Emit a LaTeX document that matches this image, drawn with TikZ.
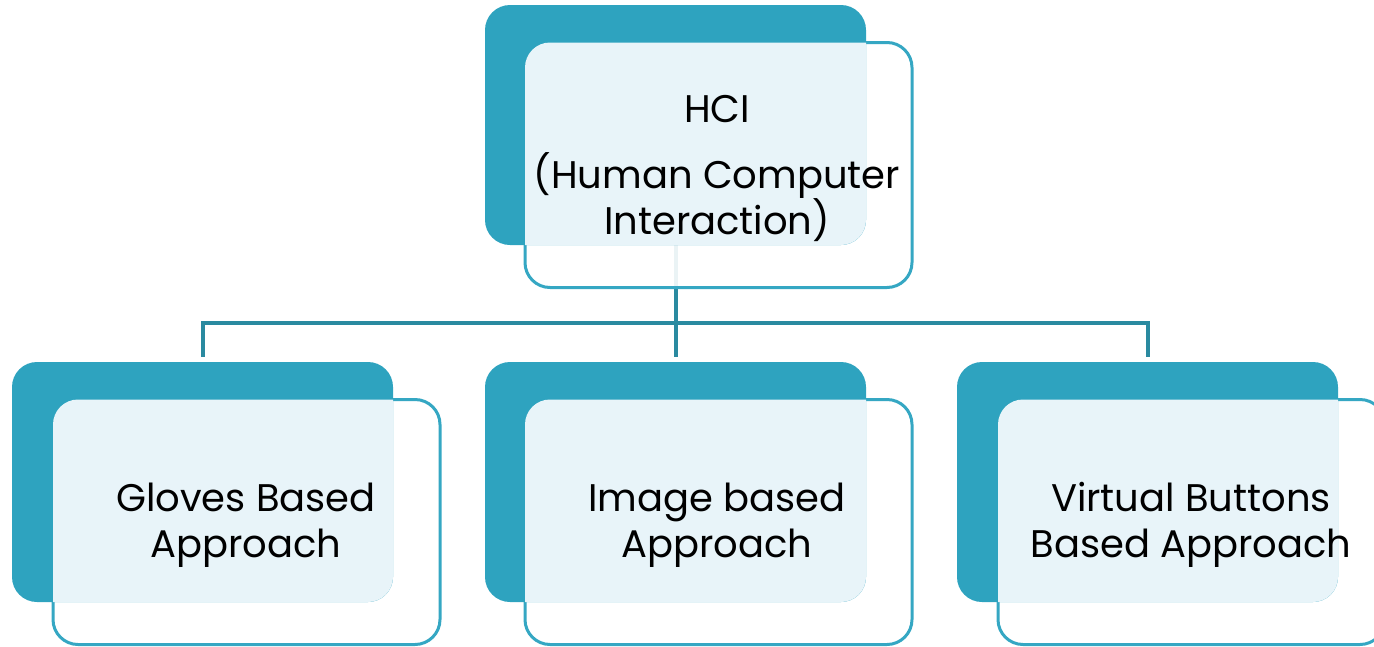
\documentclass[tikz,border=0pt]{standalone}
\usepackage{fontspec}
\setmainfont{Poppins}
\definecolor{teal1}{HTML}{2EA3BF}
\definecolor{tealb}{HTML}{35A7C3}
\definecolor{connc}{HTML}{2A8AA0}
\definecolor{lightf}{HTML}{E8F4F9}
\tikzset{
  backbox/.style={rounded corners=25pt, fill=teal1, draw=none, minimum width=381pt, minimum height=240pt, inner sep=0pt, outer sep=0pt},
  frontbox/.style={rounded corners=25pt, fill=white, fill opacity=0.9, draw=tealb, draw opacity=1, line width=3pt, minimum width=387pt, minimum height=245pt, inner sep=0pt, outer sep=0pt},
  label/.style={align=center, font=\fontsize{38.5}{46}\selectfont, text=black},
  conn/.style={draw=connc, line width=4pt},
}
\newcommand{\overlap}[2]{%
  \begin{scope}
    \clip[rounded corners=25pt] (#1.south west) rectangle (#1.north east);
    \fill[lightf, rounded corners=25pt] (#2.south west) rectangle (#2.north east);
  \end{scope}}
\begin{document}
\begin{tikzpicture}[x=1pt,y=1pt]
\useasboundingbox (0,0) rectangle (1374,-646);
\clip (0,0) rectangle (1374,-646);
% coordinates for connectors (positions of back boxes)
\coordinate (top) at (675.5,-245);
\coordinate (bus) at (675.5,-323);
\coordinate (d1) at (202.5,-357);
\coordinate (d2) at (675.5,-357);
\coordinate (d3) at (1147.5,-357);
\draw[conn] (top) -- (bus);
\draw[conn] (bus) -| (d1);
\draw[conn] (bus) -- (d2);
\draw[conn] (bus) -| (d3);
% top
\node[frontbox] (hciF) at (718.5,-165) {};
\node[backbox] (hciB) at (675.5,-125) {};
\overlap{hciF}{hciB}
\node[label] (hci) at (717,-168) {HCI\\[20pt](Human Computer\\Interaction)};
% gloves
\node[frontbox] (gF) at (246.5,-522) {};
\node[backbox] (gB) at (202.5,-482) {};
\overlap{gF}{gB}
\node[label] (g) at (246,-525) {Gloves Based\\Approach};
% image
\node[frontbox] (iF) at (718.5,-522) {};
\node[backbox] (iB) at (675.5,-482) {};
\overlap{iF}{iB}
\node[label] (i) at (717,-525) {Image based\\Approach};
% virtual
\node[frontbox] (vF) at (1191.5,-522) {};
\node[backbox] (vB) at (1147.5,-482) {};
\overlap{vF}{vB}
\node[label] (v) at (1191,-525) {Virtual Buttons\\Based Approach};
\end{tikzpicture}
\end{document}
